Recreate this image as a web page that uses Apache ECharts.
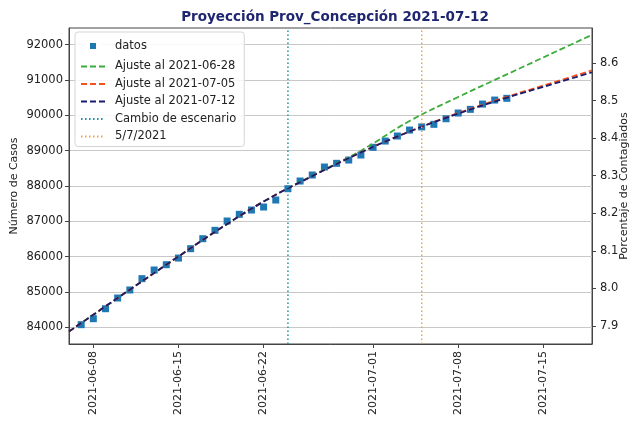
<!DOCTYPE html>
<html>
<head>
<meta charset="utf-8">
<script src="https://cdn.jsdelivr.net/npm/echarts@6/dist/echarts.min.js"></script>
<style>
  html, body { margin: 0; padding: 0; background: #fff; }
  #chart { width: 634px; height: 423px; }
</style>
</head>
<body>
<div id="chart"></div>
<script>
// observed cases (datos)
const dataDates = [
  '2021-06-07', '2021-06-08', '2021-06-09', '2021-06-10', '2021-06-11', '2021-06-12',
  '2021-06-13', '2021-06-14', '2021-06-15', '2021-06-16', '2021-06-17', '2021-06-18',
  '2021-06-19', '2021-06-20', '2021-06-21', '2021-06-22', '2021-06-23', '2021-06-24',
  '2021-06-25', '2021-06-26', '2021-06-27', '2021-06-28', '2021-06-29', '2021-06-30',
  '2021-07-01', '2021-07-02', '2021-07-03', '2021-07-04', '2021-07-05', '2021-07-06',
  '2021-07-07', '2021-07-08', '2021-07-09', '2021-07-10', '2021-07-11', '2021-07-12'
]
const dataCases = [
  84074, 84243, 84526, 84829, 85056, 85377,
  85622, 85772, 85960, 86225, 86508, 86745,
  87009, 87198, 87320, 87405, 87603, 87923,
  88141, 88311, 88537, 88642, 88735, 88877,
  89095, 89273, 89415, 89584, 89673, 89746,
  89904, 90066, 90170, 90320, 90433, 90482
]

// fitted curves, read every few days
const fitDates = [
  '2021-06-06', '2021-06-10', '2021-06-14', '2021-06-18', '2021-06-22', '2021-06-26',
  '2021-06-30', '2021-07-04', '2021-07-08', '2021-07-12', '2021-07-16', '2021-07-19'
]
const fit0628 = [83880, 84830, 85770, 86700, 87560, 88290, 89000, 89840, 90520, 91160, 91800, 92280]
const fit0705 = [83880, 84830, 85770, 86700, 87560, 88280, 88950, 89545, 90065, 90525, 90950, 91275]
const fit0712 = [83880, 84830, 85770, 86700, 87560, 88280, 88950, 89540, 90050, 90500, 90910, 91220]

const cambioDate = '2021-06-24'
const refDate    = '2021-07-05'

const xTickDates = ['2021-06-08', '2021-06-15', '2021-06-22', '2021-07-01', '2021-07-08', '2021-07-15']
const caseTicks  = [84000, 85000, 86000, 87000, 88000, 89000, 90000, 91000, 92000]
const pctTicks   = [7.9, 8.0, 8.1, 8.2, 8.3, 8.4, 8.5, 8.6]

const PCT_DIV = 10637.6   // cases per 1 %
const X_MIN = '2021-06-06', X_MAX = '2021-07-19'
const Y_MIN = 83527, Y_MAX = 92473

function t(s) { return Date.UTC(+s.slice(0, 4), +s.slice(5, 7) - 1, +s.slice(8, 10)) }
function fmt(v) {
  const d = new Date(v)
  const p = n => String(n).padStart(2, '0')
  return `${ d.getUTCFullYear() }-${ p(d.getUTCMonth() + 1) }-${ p(d.getUTCDate()) }`
}
const pairs = (ds, vs) => ds.map((d, i) => [t(d), vs[i]])
const vline = d => [[t(d), Y_MIN], [t(d), Y_MAX]]

const font = 'DejaVu Sans'
const dashed = [6, 3]
const dotted = [1.5, 2.5]

const fitSeries = (name, values, color) => ({
  name,
  type: 'line',
  data: pairs(fitDates, values),
  smooth: 0.4,
  symbol: 'none',
  lineStyle: { color, width: 1.8, type: dashed },
  itemStyle: { color },
  z: 3,
})

const chart = echarts.init(document.getElementById('chart'))

chart.setOption({
  animation: false,
  textStyle: { fontFamily: font },
  title: {
    text: 'Proyección Prov_Concepción 2021-07-12',
    left: 330,
    textAlign: 'center',
    top: 5,
    textStyle: { fontFamily: font, fontSize: 13.5, fontWeight: 'bold', color: '#1f2670' },
  },
  grid: {
    left: 69, right: 42, top: 28, bottom: 79,
    outerBoundsMode: 'none',
    containLabel: false,
    show: true, borderColor: '#444', borderWidth: 1,
  },
  legend: {
    left: 75,
    top: 32,
    orient: 'vertical',
    padding: [5, 8, 4, 5],
    itemWidth: 24,
    itemHeight: 12,
    itemGap: 5.5,
    backgroundColor: 'rgba(255,255,255,0.85)',
    borderColor: '#d5d5d5',
    borderWidth: 1,
    borderRadius: 3,
    itemStyle: { opacity: 0 },
    textStyle: { fontFamily: font, fontSize: 11.5, color: '#222', padding: [0, 0, 0, 5] },
    data: [
      { name: 'datos', icon: 'path://M0,0L1,0L1,1L0,1Z', itemStyle: { opacity: 1, borderColor: '#fff', borderWidth: 6 } },
      'Ajuste al 2021-06-28', 'Ajuste al 2021-07-05', 'Ajuste al 2021-07-12',
      'Cambio de escenario', '5/7/2021'
    ],
  },
  xAxis: {
    type: 'value',
    min: t(X_MIN),
    max: t(X_MAX),
    axisLine: { lineStyle: { color: '#444' } },
    axisTick: { show: true, length: 4, customValues: xTickDates.map(t), lineStyle: { color: '#444' } },
    axisLabel: {
      customValues: xTickDates.map(t),
      rotate: 90,
      margin: 7,
      fontSize: 11,
      color: '#222',
      formatter: v => fmt(v),
    },
    splitLine: { show: false },
  },
  yAxis: [{
    type: 'value',
    min: Y_MIN,
    max: Y_MAX,
    name: 'Número de Casos',
    nameLocation: 'middle',
    nameGap: 49,
    nameMoveOverlap: false,
    nameTextStyle: { fontSize: 11, color: '#222' },
    axisLine: { show: true, lineStyle: { color: '#444' } },
    axisTick: { show: true, length: 4, customValues: caseTicks, lineStyle: { color: '#444' } },
    axisLabel: { customValues: caseTicks, margin: 6, fontSize: 11.5, color: '#222', formatter: v => String(v) },
    splitLine: { show: true, lineStyle: { color: '#c8c8c8', width: 1 } },
  }, {
    type: 'value',
    min: Y_MIN / PCT_DIV,
    max: Y_MAX / PCT_DIV,
    name: 'Porcentaje de Contagiados',
    nameLocation: 'middle',
    nameGap: 27,
    nameMoveOverlap: false,
    nameTextStyle: { fontSize: 11, color: '#222' },
    axisLine: { show: true, lineStyle: { color: '#444' } },
    axisTick: { show: true, length: 4, customValues: pctTicks, lineStyle: { color: '#444' } },
    axisLabel: { customValues: pctTicks, margin: 8, fontSize: 11.5, color: '#222', formatter: v => v.toFixed(1) },
    splitLine: { show: false },
  }],
  series: [
    {
      name: 'datos',
      type: 'scatter',
      data: pairs(dataDates, dataCases),
      symbol: 'rect',
      symbolSize: 7,
      itemStyle: { color: '#1f77b4', opacity: 1 },
      z: 2,
    },
    fitSeries('Ajuste al 2021-06-28', fit0628, '#3cac3c'),
    fitSeries('Ajuste al 2021-07-05', fit0705, '#f4511e'),
    fitSeries('Ajuste al 2021-07-12', fit0712, '#1a1a6e'),
    {
      name: 'Cambio de escenario',
      type: 'line',
      data: vline(cambioDate),
      symbol: 'none',
      lineStyle: { color: '#1798a8', width: 1.5, type: dotted },
      itemStyle: { color: '#1798a8' },
      z: 4,
    },
    {
      name: '5/7/2021',
      type: 'line',
      data: vline(refDate),
      symbol: 'none',
      lineStyle: { color: '#f5a04a', width: 1.5, type: dotted },
      itemStyle: { color: '#f5a04a' },
      z: 4,
    },
  ],
})
</script>
</body>
</html>
